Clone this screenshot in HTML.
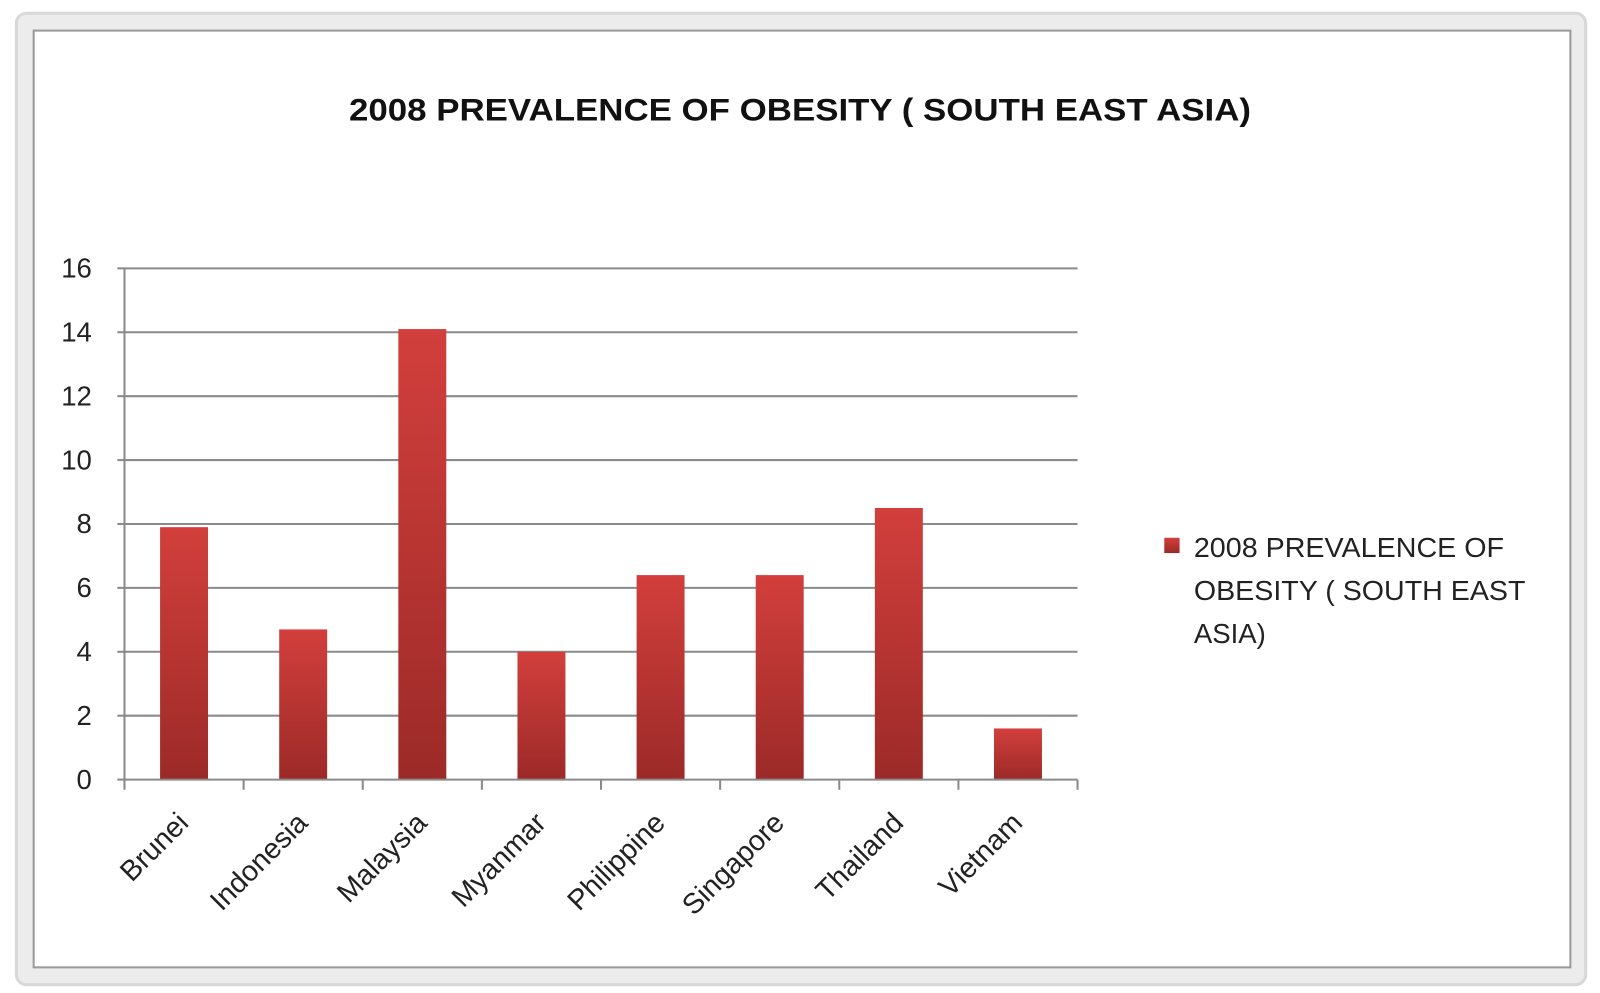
<!DOCTYPE html>
<html><head><meta charset="utf-8"><style>
body{margin:0;background:#fff;}
svg{display:block;font-family:"Liberation Sans",sans-serif;}
</style></head><body>
<svg id="chart" width="1600" height="993">
<defs>
<linearGradient id="barg" x1="0" y1="0" x2="0" y2="1">
<stop offset="0" stop-color="#d23f3c"/><stop offset="1" stop-color="#9c2a28"/>
</linearGradient>
</defs>
<g transform="scale(1.0204)">
<rect x="16" y="13" width="1538" height="952" rx="10" fill="#ececec" stroke="#d8d8d8" stroke-width="3"/>
<rect x="33" y="30" width="1506" height="918" fill="#fff" stroke="#9a9a9a" stroke-width="2"/>
<text x="342" y="118" textLength="884" lengthAdjust="spacingAndGlyphs" font-size="31" font-weight="bold" fill="#111">2008 PREVALENCE OF OBESITY  ( SOUTH EAST ASIA)</text>
<g id="grid"></g><g id="bars"></g><g id="axes"></g>
<rect x="1141" y="527" width="15" height="15" fill="url(#barg)"/>
<text font-size="27" fill="#222">
<tspan x="1170" y="546" textLength="304" lengthAdjust="spacingAndGlyphs">2008 PREVALENCE OF</tspan>
<tspan x="1170" y="588" textLength="325" lengthAdjust="spacingAndGlyphs">OBESITY  ( SOUTH EAST</tspan>
<tspan x="1170" y="630">ASIA)</tspan></text>
</g>
</svg>
<script>
const categories=["Brunei","Indonesia","Malaysia","Myanmar","Philippine","Singapore","Thailand","Vietnam"];
const values=[7.9,4.7,14.1,4.0,6.4,6.4,8.5,1.6];
const yTicks=[0,2,4,6,8,10,12,14,16];
const NS="http://www.w3.org/2000/svg";
const X0=122,X1=1056,Y0=764,Y1=263,YMAX=16;
const yS=v=>Y0-(v/YMAX)*(Y0-Y1);
const cw=(X1-X0)/categories.length;
function mk(t,a,p){const e=document.createElementNS(NS,t);for(const k in a)e.setAttribute(k,a[k]);p.appendChild(e);return e;}
const grid=document.getElementById('grid'),bars=document.getElementById('bars'),axes=document.getElementById('axes');
yTicks.forEach(v=>{
  const y=yS(v);
  if(v>0){const l=mk('line',{x1:X0,x2:X1,y1:y,y2:y,stroke:'#8a8a8a','stroke-width':2},grid);
  
  }
  mk('line',{x1:X0-7,x2:X0,y1:y,y2:y,stroke:'#8a8a8a','stroke-width':2},axes);
  const t=mk('text',{x:90,y:y+9,'text-anchor':'end','font-size':27,fill:'#222'},axes);
  t.textContent=v;
  
  
});
mk('line',{x1:X0,x2:X0,y1:Y1,y2:Y0+8,stroke:'#8a8a8a','stroke-width':2},axes);
mk('line',{x1:X0,x2:X1,y1:Y0,y2:Y0,stroke:'#8a8a8a','stroke-width':2},axes);
for(let i=0;i<=categories.length;i++){const x=X0+i*cw;mk('line',{x1:x,x2:x,y1:Y0,y2:Y0+10,stroke:'#8a8a8a','stroke-width':2},axes);}
categories.forEach((c,i)=>{
  const cx=X0+(i+0.5)*cw,bw=47;
  const r=mk('rect',{x:cx-bw/2,y:yS(values[i]),width:bw,height:Y0-yS(values[i]),fill:'url(#barg)'},bars);
  
  
  const tx=cx+6,ty=Y0+44;
  const t=mk('text',{x:tx,y:ty,'text-anchor':'end','font-size':28,fill:'#222',transform:`rotate(-45 ${tx} ${ty})`},axes);
  t.textContent=c;
  
  
});
</script>
</body></html>
